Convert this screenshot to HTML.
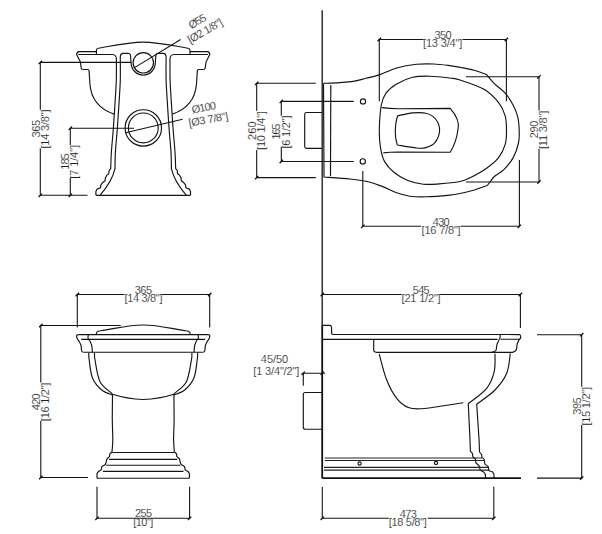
<!DOCTYPE html>
<html><head><meta charset="utf-8"><style>
html,body{margin:0;padding:0;background:#fff;width:602px;height:534px;overflow:hidden}
svg{display:block}
.o{fill:none;stroke:#141414;stroke-width:1.15;stroke-linejoin:round;stroke-linecap:butt}
.d{fill:none;stroke:#141414;stroke-width:1.1;stroke-linecap:butt}
.l2{fill:none;stroke:#222;stroke-width:1.1}
.w1{fill:none;stroke:#222;stroke-width:1.4}
.w2{fill:none;stroke:#111;stroke-width:1.8}
text{font-family:"Liberation Sans",sans-serif;font-size:11px;fill:#1c1c1c;stroke:#fff;stroke-width:0.15px;text-anchor:middle}
.tk{fill:none;stroke:#111;stroke-width:1.3}
</style></head><body>
<svg width="602" height="534" viewBox="0 0 602 534">
<g><path class="o" d="M96.40,51.60 L79.10,51.60 Q76.8,51.8 76.6,54.6 L80.4,62 L81.2,68.2 Q81.5,69.5 82.9,69.5 L87.4,69.5 Q89.1,69.6 89.1,71.1 L89.9,84 C91,98 99,109 114.1,114.1"/><path class="o" d="M96.4,54.5 L96.4,50.2 Q96.6,48.5 98.2,48.3 C112,46 128,42.3 143.2,42.1"/><path class="o" d="M78.3,54.5 L112.3,54.5 Q116.3,54.8 116.4,59  C116.38,62.50 116.50,73.17 116.30,80.00 C116.10,86.83 115.70,91.83 115.20,100.00 C114.70,108.17 113.93,120.33 113.30,129.00 C112.67,137.67 111.83,145.38 111.40,152.00 C110.97,158.62 110.82,165.92 110.70,168.70 L109.2,170.4 L108.8,173.7 L106.7,175.4 L105.4,177.9 L105,180.8 L102.5,182.8 L100.9,184.9 L100.5,187.8 L97.1,189.1 L95.9,191.6 L95.9,195.3"/><path class="o" d="M100,195.3 C106,188.5 112.5,180 115,168.7  C115.07,165.92 115.02,158.62 115.40,152.00 C115.78,145.38 116.67,137.67 117.30,129.00 C117.93,120.33 118.70,108.17 119.20,100.00 C119.70,91.83 120.12,87.23 120.30,80.00 C120.48,72.77 120.30,60.50 120.30,56.60 Q120.5,53.3 123,53.3 L128.2,53.3 Q130.3,53.5 130.5,55.4 L131.1,62.8 A12.1,12.3 0 0 0 143.2,75.1"/></g>
<g transform="matrix(-1,0,0,1,286.40,0)"><path class="o" d="M96.40,51.60 L79.10,51.60 Q76.8,51.8 76.6,54.6 L80.4,62 L81.2,68.2 Q81.5,69.5 82.9,69.5 L87.4,69.5 Q89.1,69.6 89.1,71.1 L89.9,84 C91,98 99,109 114.1,114.1"/><path class="o" d="M96.4,54.5 L96.4,50.2 Q96.6,48.5 98.2,48.3 C112,46 128,42.3 143.2,42.1"/><path class="o" d="M78.3,54.5 L112.3,54.5 Q116.3,54.8 116.4,59  C116.38,62.50 116.50,73.17 116.30,80.00 C116.10,86.83 115.70,91.83 115.20,100.00 C114.70,108.17 113.93,120.33 113.30,129.00 C112.67,137.67 111.83,145.38 111.40,152.00 C110.97,158.62 110.82,165.92 110.70,168.70 L109.2,170.4 L108.8,173.7 L106.7,175.4 L105.4,177.9 L105,180.8 L102.5,182.8 L100.9,184.9 L100.5,187.8 L97.1,189.1 L95.9,191.6 L95.9,195.3"/><path class="o" d="M100,195.3 C106,188.5 112.5,180 115,168.7  C115.07,165.92 115.02,158.62 115.40,152.00 C115.78,145.38 116.67,137.67 117.30,129.00 C117.93,120.33 118.70,108.17 119.20,100.00 C119.70,91.83 120.12,87.23 120.30,80.00 C120.48,72.77 120.30,60.50 120.30,56.60 Q120.5,53.3 123,53.3 L128.2,53.3 Q130.3,53.5 130.5,55.4 L131.1,62.8 A12.1,12.3 0 0 0 143.2,75.1"/></g>
<path class="o" d="M95.9,195.3 L190.5,195.3"/>
<circle class="o" cx="143.3" cy="62.8" r="10.2"/>
<circle class="o" cx="143.3" cy="127.9" r="18.2"/>
<circle class="o" cx="143.3" cy="127.9" r="14.9"/>
<path class="d" d="M40.3,62.4 L131.1,62.4 M40.3,62.4 L40.3,109.7 M40.3,148.3 L40.3,195.3 L87.5,195.3"/>
<path class="d" d="M70.3,128.2 L134,128.2 M70.3,128.2 L70.3,145 M70.3,178 L70.3,195.3"/>
<path class="d" d="M134.9,67.4 L180.7,39.5"/>
<path class="d" d="M125.5,132.8 L182.6,119.2"/>
<path class="o" d="M323.50,83.40 C326.25,83.27 335.03,82.93 340.00,82.60 C344.97,82.27 348.97,82.12 353.30,81.40 C357.63,80.68 361.67,79.38 366.00,78.30 C370.33,77.22 374.20,76.62 379.30,74.90 C384.40,73.18 390.40,69.77 396.60,68.00 C402.80,66.23 410.30,64.97 416.50,64.30 C422.70,63.63 428.25,63.78 433.80,64.00 C439.35,64.22 445.43,65.05 449.80,65.60 C454.17,66.15 455.97,66.52 460.00,67.30 C464.03,68.08 469.57,69.08 474.00,70.30 C478.43,71.52 484.50,73.88 486.60,74.60  C487.93,76.15 491.50,80.80 494.60,83.90 C497.70,87.00 502.10,89.65 505.20,93.20 C508.30,96.75 511.10,101.20 513.20,105.20 C515.30,109.20 516.80,112.90 517.80,117.20 C518.80,121.50 519.08,126.70 519.20,131.00 C519.32,135.30 519.50,138.57 518.50,143.00 C517.50,147.43 515.63,153.17 513.20,157.60 C510.77,162.03 507.00,166.50 503.90,169.60 C500.80,172.70 496.93,174.10 494.60,176.20 C492.27,178.30 491.12,180.65 489.90,182.20 C488.68,183.75 487.73,184.95 487.30,185.50  C484.97,186.28 477.85,188.87 473.30,190.20 C468.75,191.53 463.92,192.68 460.00,193.50 C456.08,194.32 455.48,194.55 449.80,195.10 C444.12,195.65 432.55,196.62 425.90,196.80 C419.25,196.98 414.78,196.87 409.90,196.20 C405.02,195.53 401.03,194.35 396.60,192.80 C392.17,191.25 387.73,188.67 383.30,186.90 C378.87,185.13 375.55,183.52 370.00,182.20 C364.45,180.88 357.67,179.87 350.00,179.00 C342.33,178.13 328.33,177.33 324.00,177.00 L323.5,83.4"/>
<path class="o" d="M330.8,85 L330.5,176"/>
<path class="o" d="M379.30,131.00 C379.42,123.82 380.18,111.50 381.30,105.20 C382.42,98.90 383.45,96.73 386.00,93.20 C388.55,89.67 392.17,86.65 396.60,84.00 C401.03,81.35 407.07,78.60 412.60,77.30 C418.13,76.00 423.60,76.08 429.80,76.20 C436.00,76.32 444.77,77.37 449.80,78.00 C454.83,78.63 454.30,78.12 460.00,80.00 C465.70,81.88 477.57,85.53 484.00,89.30 C490.43,93.07 495.07,98.17 498.60,102.60 C502.13,107.03 503.88,111.17 505.20,115.90 C506.52,120.63 506.50,126.27 506.50,131.00 C506.50,135.73 506.52,139.87 505.20,144.30 C503.88,148.73 501.70,153.62 498.60,157.60 C495.50,161.58 491.27,164.88 486.60,168.20 C481.93,171.52 475.03,175.28 470.60,177.50 C466.17,179.72 465.25,180.43 460.00,181.50 C454.75,182.57 445.23,183.45 439.10,183.90 C432.97,184.35 428.52,184.82 423.20,184.20 C417.88,183.58 412.08,182.20 407.20,180.20 C402.32,178.20 397.67,175.30 393.90,172.20 C390.13,169.10 386.82,165.58 384.60,161.60 C382.38,157.62 381.48,153.40 380.60,148.30 C379.72,143.20 379.18,138.18 379.30,131.00Z"/>
<path class="o" d="M382,107.6 Q390,108.6 397.9,108.8 L450.2,108.4 Q460.5,120 457.9,129.8 Q456.5,142 450.2,152.2 L397.9,152 Q390,152.2 383.3,152.9"/>
<path class="o" d="M397.3,145 Q395,138 395.3,131 Q395.5,122 397.7,115.8  C400.18,115.32 407.90,113.33 412.60,112.90 C417.30,112.47 422.13,112.27 425.90,113.20 C429.67,114.13 432.92,115.73 435.20,118.50 C437.48,121.27 439.60,125.83 439.60,129.80 C439.60,133.77 437.48,139.33 435.20,142.30 C432.92,145.27 429.02,146.65 425.90,147.60 C422.78,148.55 421.27,148.43 416.50,148.00 C411.73,147.57 400.50,145.50 397.30,145.00"/>
<circle class="o" cx="363" cy="101.4" r="2.6"/>
<circle class="o" cx="362.8" cy="161.4" r="2.6"/>
<path class="o" d="M322,112.5 L306.5,112.5 Q304.7,112.5 304.7,114.3 L304.7,146.5 Q304.7,148.3 306.5,148.3 L322,148.3"/>
<path class="d" d="M379.3,101.2 L379.3,39.5 L423.7,39.5 M462.5,39.5 L506.4,39.5 L506.4,101.2"/>
<path class="d" d="M466,76.8 L539,76.8 L539,110.5 M539,149 L539,182 L466,182"/>
<path class="d" d="M362.8,171 L362.8,226.3 L421,226.3 M460.5,226.3 L519.4,226.3 L519.4,160"/>
<path class="d" d="M315.8,83.3 L256.7,83.3 L256.7,110.8 M256.7,150 L256.7,177.6 L315.8,177.6"/>
<path class="d" d="M353.7,101.4 L281.3,101.4 L281.3,115.8 M281.3,146.7 L281.3,161.5 L353.7,161.5"/>
<path class="w1" d="M322.2,10.3 L322.2,325"/>
<path class="w2" d="M322.2,325 L322.2,478.3"/>
<g><path class="o" d="M96.2,334.4 L96.6,332.5 Q97.4,331 100.5,330.8 C115,328.8 128,325 143.2,325"/><path class="o" d="M78.3,334.6 Q76.4,334.8 76.6,336.5 L77.1,338.3 Q79,341 80,343 Q81.2,345 81.2,347.1 L81.6,350.8 Q82,352.2 83.5,352.2"/><path class="o" d="M88.3,335 L87.9,338 Q90.5,341.5 90.8,343 Q92,345.5 92,347.1 L92.4,352.2"/><path class="o" d="M88.7,352.9  C88.78,354.08 88.57,355.82 89.20,360.00 C89.83,364.18 90.42,373.00 92.50,378.00 C94.58,383.00 98.37,387.17 101.70,390.00 C105.03,392.83 110.70,394.17 112.50,395.00"/><path class="o" d="M94.5,352.9  C94.58,354.08 94.08,355.20 95.00,360.00 C95.92,364.80 97.22,376.15 100.00,381.70 C102.78,387.25 109.62,391.08 111.70,393.30 C113.78,395.52 112.37,394.72 112.50,395.00"/><path class="o" d="M112.50,395.00 C112.47,399.17 112.25,412.50 112.30,420.00 C112.35,427.50 112.85,434.67 112.80,440.00 C112.75,445.33 112.13,450.00 112.00,452.00 L109.9,453.7 L109.5,456.6 L107,458.7 L106.2,462 L105.4,464.5 L101.9,466.6 L101.2,469.9 L98.3,471.6 L97,473.6 L97,478.2"/></g>
<g transform="matrix(-1,0,0,1,286.40,0)"><path class="o" d="M96.2,334.4 L96.6,332.5 Q97.4,331 100.5,330.8 C115,328.8 128,325 143.2,325"/><path class="o" d="M78.3,334.6 Q76.4,334.8 76.6,336.5 L77.1,338.3 Q79,341 80,343 Q81.2,345 81.2,347.1 L81.6,350.8 Q82,352.2 83.5,352.2"/><path class="o" d="M88.3,335 L87.9,338 Q90.5,341.5 90.8,343 Q92,345.5 92,347.1 L92.4,352.2"/><path class="o" d="M88.7,352.9  C88.78,354.08 88.57,355.82 89.20,360.00 C89.83,364.18 90.42,373.00 92.50,378.00 C94.58,383.00 98.37,387.17 101.70,390.00 C105.03,392.83 110.70,394.17 112.50,395.00"/><path class="o" d="M94.5,352.9  C94.58,354.08 94.08,355.20 95.00,360.00 C95.92,364.80 97.22,376.15 100.00,381.70 C102.78,387.25 109.62,391.08 111.70,393.30 C113.78,395.52 112.37,394.72 112.50,395.00"/><path class="o" d="M112.50,395.00 C112.47,399.17 112.25,412.50 112.30,420.00 C112.35,427.50 112.85,434.67 112.80,440.00 C112.75,445.33 112.13,450.00 112.00,452.00 L109.9,453.7 L109.5,456.6 L107,458.7 L106.2,462 L105.4,464.5 L101.9,466.6 L101.2,469.9 L98.3,471.6 L97,473.6 L97,478.2"/></g>
<path class="o" d="M78.3,334.6 L208.1,334.6 M83.5,352.2 L202.9,352.2 M81.2,339.4 L205.2,339.4 M112.5,394.2 Q127,398.8 143.2,399.5 Q159.4,398.8 173.9,394.2 M97,478.2 L189.4,478.2"/>
<path class="o" d="M112.4,452.5 L174,452.5 M109.1,459.4 L177.3,459.4 M106.2,465.2 L180.2,465.2 M102.9,471.4 L183.5,471.4"/>
<path class="d" d="M77.3,327.6 L77.3,294.5 L124.5,294.5 M162,294.5 L209.7,294.5 L209.7,327.6"/>
<path class="d" d="M120.8,325.5 L40.8,325.5 L40.8,382.5 M40.8,420.8 L40.8,477.5 L88,477.5"/>
<path class="d" d="M97,486.8 L97,518.3 L189.6,518.3 L189.6,486.8"/>
<path class="o" d="M322.3,325.4 L330,325.4 Q331.4,325.6 331.6,327.8 L331.6,333.2 Q331.8,334.5 333,334.5 L519,334.55 Q520.9,334.8 520.7,337 L520.5,338.3 Q518.5,340 518.2,341.6 Q517,343.5 517,345 L516.5,349.1 Q516,351.4 512.4,352.4 L376.2,352.3 Q373.7,352 373.7,350 L373.7,339.3"/>
<path class="o" d="M322.3,339.3 L497.5,339.3 M500.5,339.2 L520,339.2"/>
<path class="o" d="M500.3,334.6 L499.9,338.3 Q498.5,340.5 497.9,342.4 Q496.6,344.5 496.6,346.6 L496.2,349.9 Q495.5,351.8 491.6,352.4"/>
<path class="o" d="M379.20,354.20 C380.45,358.50 383.78,372.65 386.70,380.00 C389.62,387.35 393.10,393.72 396.70,398.30 C400.30,402.88 404.13,405.77 408.30,407.50 C412.47,409.23 416.13,408.95 421.70,408.70 C427.27,408.45 434.77,406.98 441.70,406.00 C448.63,405.02 459.70,403.33 463.30,402.80"/>
<path class="o" d="M495.00,353.70 C494.87,356.70 495.58,365.93 494.20,371.70 C492.82,377.47 491.02,382.97 486.70,388.30 C482.38,393.63 471.37,401.13 468.30,403.70 L470,440 L470.4,451.2 L472.4,453.3 L472.9,457 L475.3,458.7 L475.8,462.8 L479.1,465.7 L480.3,470.3 L483.7,472 L485.3,474.1 L485.6,478.2"/>
<path class="o" d="M510.30,353.30 C509.70,356.63 509.25,367.18 506.70,373.30 C504.15,379.42 500.00,384.85 495.00,390.00 C490.00,395.15 479.75,401.83 476.70,404.20 L479.1,440 L479.5,452 L481.6,454.5 L482,457.4 L484.1,459.1 L484.9,464.1 L488.2,466.6 L489,470.7 L492.8,472 L494,474.9 L494,478.2"/>
<path class="l2" d="M324.8,458 L482,458 M324.8,460.5 L484.2,460.5 M324,467.4 L488.3,467.4 M324,470.1 L489,470.1"/>
<path class="w2" d="M322.3,478.1 L521,478.1"/>
<circle class="o" cx="359.6" cy="463.5" r="1.6"/>
<circle class="o" cx="436" cy="462.9" r="1.6"/>
<path class="o" d="M322,392.5 L305.3,392.5 Q303.3,392.5 303.3,394.5 L303.3,427.2 Q303.3,429.2 305.3,429.2 L322,429.2"/>
<path class="d" d="M322.3,294.5 L401.7,294.5 M440,294.5 L520.4,294.5 L520.4,327.9"/>
<path class="d" d="M301.7,373.3 L325,373.3 M303.3,373.3 L303.3,385.8"/>
<path class="d" d="M537,334.7 L581.7,334.7 L581.7,386.7 M581.7,425 L581.7,478.1 L537,478.1"/>
<path class="d" d="M322.3,487 L322.3,518.3 L388.8,518.3 M427.7,518.3 L493.8,518.3 L493.8,486.7"/>
<path class="tk" d="M38.60,64.10 L42.00,60.70 M38.60,197.00 L42.00,193.60 M68.60,129.90 L72.00,126.50 M68.60,197.00 L72.00,193.60 M377.60,41.20 L381.00,37.80 M504.70,41.20 L508.10,37.80 M537.30,78.50 L540.70,75.10 M537.30,183.70 L540.70,180.30 M361.10,228.00 L364.50,224.60 M517.70,228.00 L521.10,224.60 M255.00,85.00 L258.40,81.60 M255.00,179.30 L258.40,175.90 M279.60,103.10 L283.00,99.70 M279.60,163.20 L283.00,159.80 M75.60,296.20 L79.00,292.80 M208.00,296.20 L211.40,292.80 M39.10,327.20 L42.50,323.80 M39.10,479.20 L42.50,475.80 M95.30,520.00 L98.70,516.60 M187.90,520.00 L191.30,516.60 M320.60,296.20 L324.00,292.80 M518.70,296.20 L522.10,292.80 M301.60,375.00 L305.00,371.60 M320.60,375.00 L324.00,371.60 M580.00,336.40 L583.40,333.00 M580.00,479.80 L583.40,476.40 M320.60,520.00 L324.00,516.60 M492.10,520.00 L495.50,516.60"/>
<text x="443.10" y="39.00" textLength="17.2">350</text>
<text x="442.70" y="47.40" textLength="39.4">[13 3/4&quot;]</text>
<text x="441.20" y="226.00" textLength="16.7">430</text>
<text x="441.10" y="234.40" textLength="39.1">[16 7/8&quot;]</text>
<text x="421.20" y="293.60" textLength="16.7">545</text>
<text x="421.10" y="302.40" textLength="39.1">[21 1/2&quot;]</text>
<text x="408.20" y="517.60" textLength="17.1">473</text>
<text x="407.80" y="526.00" textLength="37.9">[18 5/8&quot;]</text>
<text x="143.50" y="517.20" textLength="17.2">255</text>
<text x="143.30" y="526.00" textLength="19.9">[10&quot;]</text>
<text x="143.40" y="293.50" textLength="17.5">365</text>
<text x="143.50" y="302.40" textLength="37.9">[14 3/8&quot;]</text>
<text x="274.50" y="363.00" textLength="27.3">45/50</text>
<text x="276.30" y="374.70" textLength="45.9">[1 3/4&quot;/2&quot;]</text>
<text transform="translate(256.10,130.70) rotate(-90)" textLength="18.5">260</text>
<text transform="translate(264.60,130.50) rotate(-90)" textLength="38.8">[10 1/4&quot;]</text>
<text transform="translate(280.30,131.60) rotate(-90)" textLength="15.9">165</text>
<text transform="translate(289.60,132.00) rotate(-90)" textLength="33.2">[6 1/2&quot;]</text>
<text transform="translate(538.10,129.50) rotate(-90)" textLength="17.6">290</text>
<text transform="translate(547.00,129.95) rotate(-90)" textLength="38.3">[11 3/8&quot;]</text>
<text transform="translate(580.80,406.00) rotate(-90)" textLength="17.4">395</text>
<text transform="translate(589.80,406.30) rotate(-90)" textLength="38.5">[15 1/2&quot;]</text>
<text transform="translate(40.10,401.80) rotate(-90)" textLength="17.0">420</text>
<text transform="translate(48.60,401.90) rotate(-90)" textLength="38.5">[16 1/2&quot;]</text>
<text transform="translate(39.60,128.60) rotate(-90)" textLength="17.6">365</text>
<text transform="translate(48.50,129.00) rotate(-90)" textLength="39.1">[14 3/8&quot;]</text>
<text transform="translate(69.10,161.50) rotate(-90)" textLength="16.5">185</text>
<text transform="translate(78.40,161.90) rotate(-90)" textLength="33.8">[7 1/4&quot;]</text>
<text transform="translate(199.20,24.50) rotate(-30)" textLength="18.5">Ø55</text>
<text transform="translate(206.90,34.20) rotate(-30)" textLength="38.5">[Ø2 1/8&quot;]</text>
<text transform="translate(204.50,111.20) rotate(-10.5)" textLength="24.5">Ø100</text>
<text transform="translate(209.00,123.20) rotate(-10.5)" textLength="40.0">[Ø3 7/8&quot;]</text>
</svg>
</body></html>
